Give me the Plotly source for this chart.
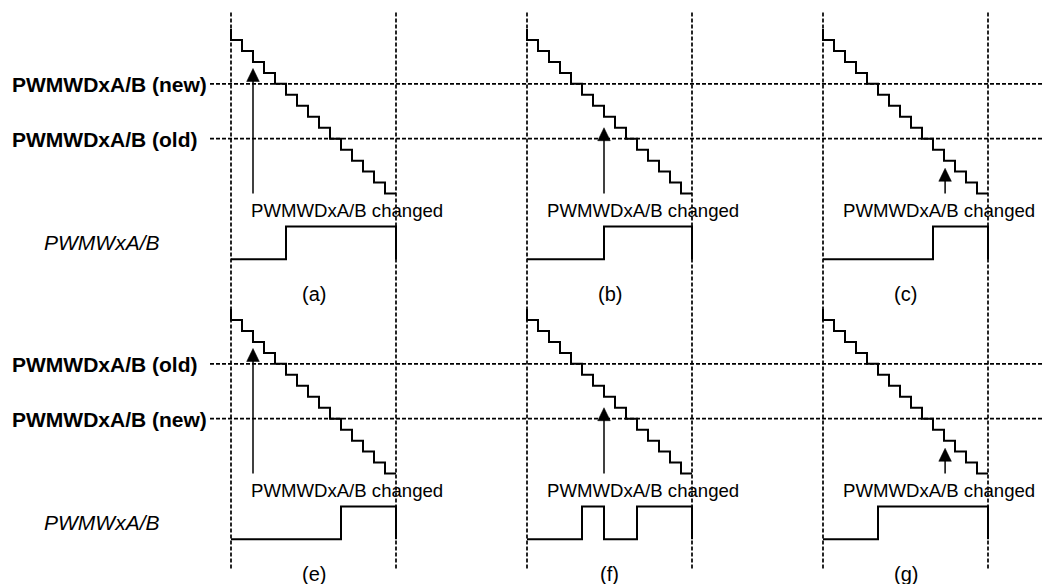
import plotly.graph_objects as go

# ---- data (time in counter steps, levels in counter units) ----
STEP_TIME = [0, 0, 1, 2, 3, 4, 5, 6, 7, 8, 9, 10, 11, 12, 13, 14, 15]
COUNTER = [15, 14, 13, 12, 11, 10, 9, 8, 7, 6, 5, 4, 3, 2, 1, 0, 0]
COMPARE_LEVELS = [10, 5]
ROW_LABELS = [["PWMWDxA/B (new)", "PWMWDxA/B (old)"],
              ["PWMWDxA/B (old)", "PWMWDxA/B (new)"]]
CHANGE_TIME = [2, 7, 11.1]
ARROW_TIP = [11.4, 6.0, 2.3]
PULSE_EDGES = [[5], [7], [10], [10], [5, 7, 10], [5]]
PULSE_LOW, PULSE_HIGH = -6, -3
PANEL_TAGS = ["(a)", "(b)", "(c)", "(e)", "(f)", "(g)"]
OUTPUT_NAME = "PWMWxA/B"
CHANGE_TEXT = "PWMWDxA/B changed"

# ---- geometry (pixel space of the 1042x584 page) ----
W, H = 1042, 584
COL_LEFT = [231, 527, 823]
ROW_TOP = [29, 309]
STEP_W = 11.0
STEP_H = 10.97
HEAD_W, HEAD_L = 6.3, 13
FONT = "Liberation Sans, Arial, sans-serif"


def px(col, t):
    return COL_LEFT[col] + t * STEP_W


def py(row, v):
    return ROW_TOP[row] + (15 - v) * STEP_H


fig = go.Figure()
ann = []
line_k = dict(color="black", width=2)
dash_k = dict(color="black", width=1.7, dash="4px,2px")

# vertical dashed lines, one pair per column, through both rows
for c in range(3):
    for t in (0, 15):
        fig.add_trace(go.Scatter(x=[px(c, t), px(c, t)], y=[12.5, 570],
                                 mode="lines", line=dash_k))

for r in range(2):
    # horizontal compare lines and their labels
    for k, lv in enumerate(COMPARE_LEVELS):
        fig.add_trace(go.Scatter(x=[210, W], y=[py(r, lv), py(r, lv)],
                                 mode="lines", line=dash_k))
        ann.append(dict(x=10, y=py(r, lv) + 1, text="<b>" + ROW_LABELS[r][k] + "</b>",
                        xanchor="left", yanchor="middle", showarrow=False,
                        font=dict(size=21, family=FONT, color="black")))
    ann.append(dict(x=42, y=py(r, (PULSE_LOW + PULSE_HIGH) / 2), text="<i>" + OUTPUT_NAME + "</i>",
                    xanchor="left", yanchor="middle", showarrow=False,
                    font=dict(size=21, family=FONT, color="black")))

    for c in range(3):
        i = r * 3 + c
        # counter staircase
        fig.add_trace(go.Scatter(x=[px(c, t) for t in STEP_TIME],
                                 y=[py(r, v) for v in COUNTER],
                                 mode="lines", line=dict(color="black", width=2, shape="hv")))
        # output waveform
        xs, ys = [0], [PULSE_LOW]
        lvl = PULSE_LOW
        for e in PULSE_EDGES[i]:
            xs.append(e); ys.append(lvl)
            lvl = PULSE_HIGH if lvl == PULSE_LOW else PULSE_LOW
            xs.append(e); ys.append(lvl)
        xs += [15, 15]; ys += [lvl, PULSE_LOW]
        fig.add_trace(go.Scatter(x=[px(c, t) for t in xs], y=[py(r, v) for v in ys],
                                 mode="lines", line=line_k))
        # arrow marking the register change: shaft + filled head
        ax_ = px(c, CHANGE_TIME[c])
        tip = py(r, ARROW_TIP[c])
        fig.add_trace(go.Scatter(x=[ax_, ax_], y=[py(r, 0), tip + HEAD_L - 1],
                                 mode="lines", line=dict(color="black", width=1.5)))
        fig.add_trace(go.Scatter(x=[ax_ - HEAD_W, ax_, ax_ + HEAD_W, ax_ - HEAD_W],
                                 y=[tip + HEAD_L, tip, tip + HEAD_L, tip + HEAD_L],
                                 mode="lines", fill="toself", fillcolor="black",
                                 line=dict(color="black", width=0.5)))
        ann.append(dict(x=px(c, 0) + 18, y=py(r, -1.5), text=CHANGE_TEXT,
                        xanchor="left", yanchor="middle", showarrow=False,
                        font=dict(size=18.6, family=FONT, color="black")))
        ann.append(dict(x=px(c, 7.5), y=py(r, -9.15), text=PANEL_TAGS[i],
                        xanchor="center", yanchor="middle", showarrow=False,
                        font=dict(size=20, family=FONT, color="black")))

fig.update_layout(
    width=W, height=H, margin=dict(l=0, r=0, t=0, b=0),
    plot_bgcolor="white", paper_bgcolor="white", showlegend=False,
    xaxis=dict(range=[0, W], visible=False, fixedrange=True),
    yaxis=dict(range=[H, 0], visible=False, fixedrange=True),
    annotations=ann,
)
fig.write_html("out.html", config={"displayModeBar": False},
               post_script="document.body.style.margin='0';document.body.style.overflow='hidden';")
